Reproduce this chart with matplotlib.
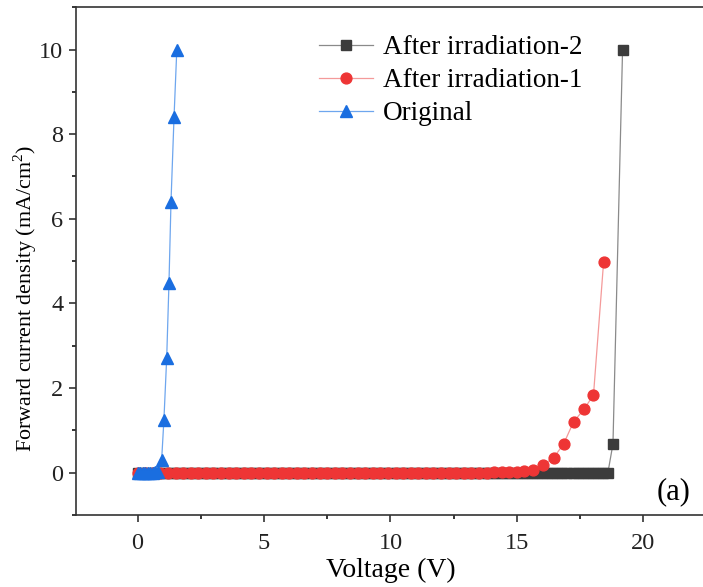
import matplotlib
matplotlib.use("Agg")
import matplotlib.pyplot as plt
from matplotlib.ticker import MultipleLocator

plt.rcParams['font.family'] = ['Liberation Serif', 'DejaVu Serif']
plt.rcParams['mathtext.fontset'] = 'custom'
plt.rcParams['mathtext.rm'] = 'Liberation Serif'

# After irradiation-2 (black squares)
black_v = [0.0, 0.2, 0.4, 0.6, 0.8, 1.0, 1.2, 1.4, 1.6, 1.8, 2.0, 2.2, 2.4, 2.6, 2.8,
           3.0, 3.2, 3.4, 3.6, 3.8, 4.0, 4.2, 4.4, 4.6, 4.8, 5.0, 5.2, 5.4, 5.6, 5.8,
           6.0, 6.2, 6.4, 6.6, 6.8, 7.0, 7.2, 7.4, 7.6, 7.8, 8.0, 8.2, 8.4, 8.6, 8.8,
           9.0, 9.2, 9.4, 9.6, 9.8, 10.0, 10.2, 10.4, 10.6, 10.8, 11.0, 11.2, 11.4, 11.6, 11.8,
           12.0, 12.2, 12.4, 12.6, 12.8, 13.0, 13.2, 13.4, 13.6, 13.8, 14.0, 14.2, 14.4, 14.6, 14.8,
           15.0, 15.2, 15.4, 15.6, 15.8, 16.0, 16.2, 16.4, 16.6, 16.8, 17.0, 17.2, 17.4, 17.6, 17.8,
           18.0, 18.2, 18.4, 18.6, 18.8, 19.18]
black_j = [0.0] * 94 + [0.68, 10.0]

# After irradiation-1 (red circles)
red_v = [0.0, 0.3, 0.6, 0.9, 1.2, 1.5, 1.8, 2.1, 2.4, 2.7, 3.0, 3.3, 3.6, 3.9, 4.2,
         4.5, 4.8, 5.1, 5.4, 5.7, 6.0, 6.3, 6.6, 6.9, 7.2, 7.5, 7.8, 8.1, 8.4, 8.7,
         9.0, 9.3, 9.6, 9.9, 10.2, 10.5, 10.8, 11.1, 11.4, 11.7, 12.0, 12.3, 12.6, 12.9, 13.2,
         13.5, 13.8, 14.1, 14.4, 14.7, 15.0, 15.3, 15.65, 16.05, 16.45, 16.85, 17.24, 17.67,
         18.03, 18.43]
red_j = [0.0] * 47 + [0.005, 0.01, 0.015, 0.02, 0.04, 0.07, 0.19, 0.35, 0.68, 1.2, 1.51,
                      1.84, 4.98]

# Original (blue triangles)
blue_v = [0.0, 0.1, 0.2, 0.3, 0.4, 0.5, 0.6, 0.7, 0.8, 0.95, 1.04, 1.15, 1.24, 1.32, 1.44, 1.55]
blue_j = [0.0, 0.0, 0.0, 0.0, 0.0, 0.0, 0.0, 0.01, 0.02, 0.3, 1.25, 2.71, 4.48, 6.4, 8.4, 10.0]

labels = ['After irradiation-2', 'After irradiation-1', 'Original']

fig = plt.figure(figsize=(7.03, 5.87), dpi=100)
ax = fig.add_axes([0.108, 0.1227, 0.897, 0.865])

ax.plot(black_v, black_j, color='#8a8a8a', lw=0.9, marker='s', ms=6.5,
        mfc='#3c3c3c', mec='#3c3c3c', label=labels[0])
ax.plot(red_v, red_j, color='#f49a9a', lw=0.9, marker='o', ms=7.8,
        mfc='#ee3535', mec='#ee3535', label=labels[1])
ax.plot(blue_v, blue_j, color='#6ea6ee', lw=0.9, marker='^', ms=8.5,
        mfc='#1a6ee0', mec='#1a6ee0', label=labels[2])

ax.set_xlim(-2.44, 22.5)
ax.set_ylim(-1, 11)
ax.xaxis.set_major_locator(MultipleLocator(5))
ax.xaxis.set_minor_locator(MultipleLocator(2.5))
ax.yaxis.set_major_locator(MultipleLocator(2))
ax.yaxis.set_minor_locator(MultipleLocator(1))
ax.tick_params(which='major', direction='out', length=5, width=1.1, labelsize=17.5,
               colors='#222222')
ax.tick_params(axis='x', which='major', pad=8)
ax.tick_params(axis='y', which='major', pad=4)
ax.tick_params(which='minor', direction='out', length=3, width=1.1)
for s in ['top', 'right', 'left', 'bottom']:
    ax.spines[s].set_linewidth(1.2)
    ax.spines[s].set_color('#333333')

ax.set_xlabel('Voltage (V)', fontsize=20)
ax.xaxis.set_label_coords(0.5, -0.084)
ax.set_ylabel('Forward current density (mA/cm$^2$)', fontsize=15.8)
ax.yaxis.set_label_coords(-0.058, 0.427)

ax.legend(loc='upper left', bbox_to_anchor=(0.386, 0.945), frameon=False, fontsize=19.5,
          handlelength=2.0, handletextpad=0.35, labelspacing=0.3, borderaxespad=0.0,
          borderpad=0.0)

ax.text(21.2, -0.45, '(a)', fontsize=22, ha='center', va='center')

fig.savefig('out.png', dpi=100)
